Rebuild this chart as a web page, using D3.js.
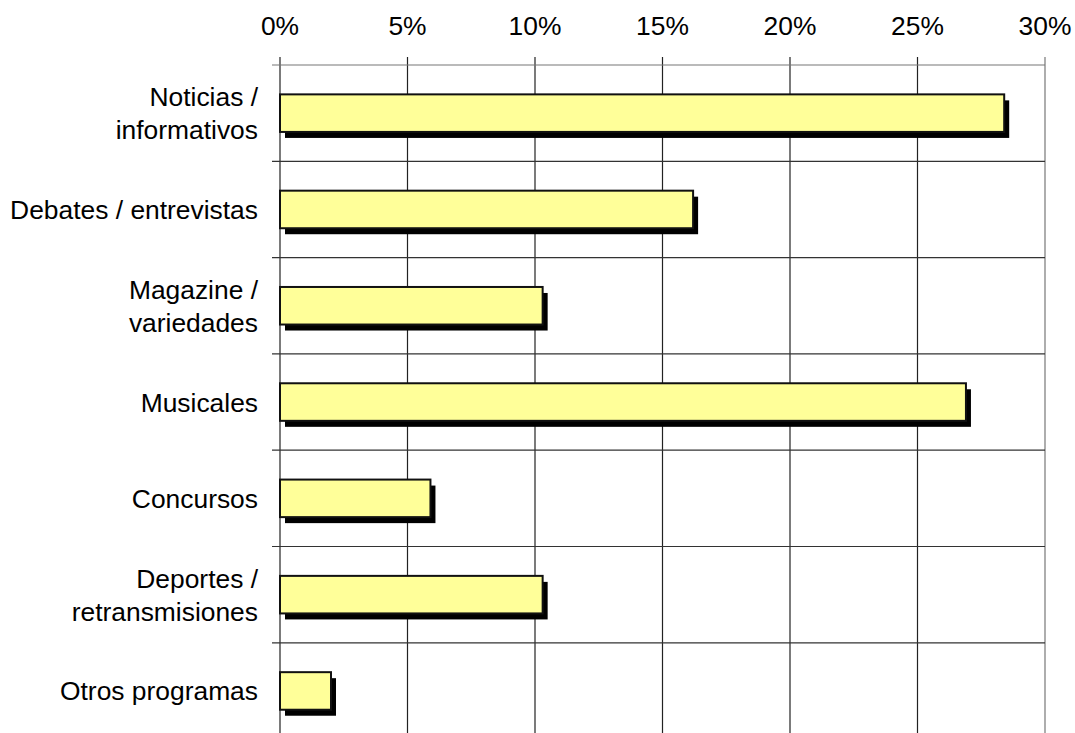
<html>
<head>
<style>
body { margin: 0; padding: 0; background: #fff; }
svg { display: block; }
text { font-family: "Liberation Sans", Arial, sans-serif; font-size: 26.4px; fill: #000; }
.grid line { stroke: #222; stroke-width: 1.2; }
</style>
<script src="https://cdnjs.cloudflare.com/ajax/libs/d3/7.8.5/d3.min.js"></script>
</head>
<body>
<svg id="chart" width="1075" height="733"></svg>
<script>
var width = 1075, height = 733

var categories = [
  ['Noticias /', 'informativos'],
  ['Debates / entrevistas'],
  ['Magazine /', 'variedades'],
  ['Musicales'],
  ['Concursos'],
  ['Deportes /', 'retransmisiones'],
  ['Otros programas']
]
var values = [28.4, 16.2, 10.3, 26.9, 5.9, 10.3, 2.0]
var tickValues = [0, 5, 10, 15, 20, 25, 30]

var plotLeft = 280, plotRight = 1045, plotTop = 65, rowH = 96.3

var x = d3.scaleLinear().domain([0, 30]).range([plotLeft, plotRight])
var y = d3.scaleBand()
  .domain(d3.range(categories.length))
  .range([plotTop, plotTop + rowH * categories.length])

var svg = d3.select('#chart')

// vertical grid lines (with tick stubs above the plot)
var grid = svg.append('g').attr('class', 'grid')
grid.selectAll('line.v')
  .data(tickValues)
  .join('line')
  .attr('class', 'v')
  .attr('x1', function(d) { return x(d) })
  .attr('x2', function(d) { return x(d) })
  .attr('y1', plotTop - 8)
  .attr('y2', height + 10)
  .style('stroke', function(d) { return d == 30 ? '#777' : '#222' })

// horizontal row separators (with tick stubs left of axis)
var bounds = d3.range(categories.length).map(function(i) { return y(i) })
grid.selectAll('line.h')
  .data(bounds)
  .join('line')
  .attr('class', 'h')
  .attr('x1', plotLeft - 8)
  .attr('x2', plotRight)
  .attr('y1', function(d) { return d })
  .attr('y2', function(d) { return d })
  .style('stroke', function(d, i) { return i == 0 ? '#777' : '#333' })

// top tick labels
svg.append('g').selectAll('text')
  .data(tickValues)
  .join('text')
  .attr('x', function(d) { return x(d) })
  .attr('y', 35)
  .attr('text-anchor', 'middle')
  .text(function(d) { return d + '%' })

// category labels
var lab = svg.append('g').selectAll('text')
  .data(categories)
  .join('text')
  .attr('text-anchor', 'end')
  .attr('transform', function(d, i) {
    return 'translate(258,' + (y(i) + y.bandwidth() / 2 + 9.5) + ')'
  })
lab.selectAll('tspan')
  .data(function(d) { return d.map(function(t, j) { return {t: t, j: j, n: d.length} }) })
  .join('tspan')
  .attr('x', 0)
  .attr('y', function(d) { return (d.j - (d.n - 1) / 2) * 33 })
  .text(function(d) { return d.t })

// bars with shadow
var barH = y.bandwidth() * 0.39
var barOff = (y.bandwidth() - barH) / 2
var bars = svg.append('g').selectAll('g')
  .data(values)
  .join('g')

bars.append('rect')
  .attr('x', x(0) + 5)
  .attr('y', function(d, i) { return y(i) + barOff + 6 })
  .attr('width', function(d) { return x(d) - x(0) })
  .attr('height', barH)
  .attr('fill', '#000')

bars.append('rect')
  .attr('x', x(0))
  .attr('y', function(d, i) { return y(i) + barOff })
  .attr('width', function(d) { return x(d) - x(0) })
  .attr('height', barH)
  .attr('fill', '#ffff99')
  .attr('stroke', '#111')
  .attr('stroke-width', 2)
</script>
</body>
</html>
